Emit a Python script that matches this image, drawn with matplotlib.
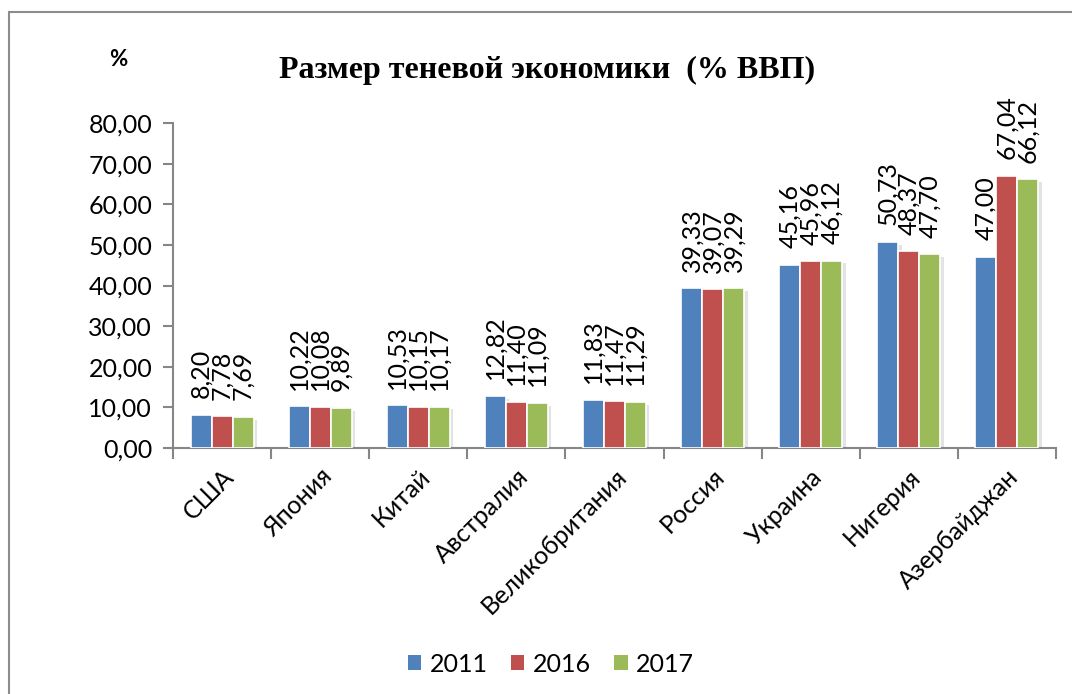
import matplotlib
matplotlib.use("Agg")
import matplotlib.pyplot as plt
import matplotlib.patheffects as pe
from matplotlib.patches import Rectangle
import numpy as np

categories = ["США", "Япония", "Китай", "Австралия", "Великобритания",
              "Россия", "Украина", "Нигерия", "Азербайджан"]
v2011 = [8.20, 10.22, 10.53, 12.82, 11.83, 39.33, 45.16, 50.73, 47.00]
v2016 = [7.78, 10.08, 10.15, 11.40, 11.47, 39.07, 45.96, 48.37, 67.04]
v2017 = [7.69, 9.89, 10.17, 11.09, 11.29, 39.29, 46.12, 47.70, 66.12]
series_names = ["2011", "2016", "2017"]
colors = ["#4F81BD", "#C0504D", "#9BBB59"]
yticks = [0, 10, 20, 30, 40, 50, 60, 70, 80]

FONT = "Lato"
FS = 18

fig = plt.figure(figsize=(10.72, 6.94), dpi=100)
ax = fig.add_axes([173/1072, 1-448/694, (1056-173)/1072, (448-123)/694])

x = np.arange(len(categories))
bw = 0.214
series = [v2011, v2016, v2017]
shadow = [pe.SimplePatchShadow(offset=(2.5, -2), shadow_rgbFace="#808080", alpha=0.22), pe.Normal()]
for i, (vals, c, name) in enumerate(zip(series, colors, series_names)):
    pos = x + (i - 1) * bw
    bars = ax.bar(pos, vals, width=bw, color=c, edgecolor="white", linewidth=1.2,
                  label=name, zorder=3)
    for b in bars:
        b.set_path_effects(shadow)
    for xp, v in zip(pos, vals):
        ax.annotate(f"{v:.2f}".replace(".", ","), (xp, v), xytext=(0, 12),
                    textcoords="offset points", rotation=90, ha="center", va="bottom",
                    fontsize=FS, family=FONT, color="black")

ax.set_xlim(-0.5, len(categories) - 0.5)
ax.set_ylim(0, 80)
ax.set_yticks(yticks)
ax.set_yticklabels([f"{t:.2f}".replace(".", ",") for t in yticks], fontsize=FS, family=FONT)
ax.set_xticks(np.arange(len(categories) + 1) - 0.5)
ax.set_xticklabels([])
ax.set_xticks(x, minor=True)
ax.set_xticklabels(categories, minor=True, rotation=45, ha="right", va="top",
                   rotation_mode="anchor", fontsize=FS, family=FONT)
ax.tick_params(axis="x", which="minor", length=0, pad=12)
ax.tick_params(axis="x", which="major", length=8, width=1.5, color="#868686", direction="out")
ax.tick_params(axis="y", length=7, width=1.5, color="#868686", pad=8)
for s in ["top", "right"]:
    ax.spines[s].set_visible(False)
for s in ["left", "bottom"]:
    ax.spines[s].set_color("#868686")
    ax.spines[s].set_linewidth(1.5)

leg = fig.legend(loc="center", bbox_to_anchor=(551/1072, 1-664/694), ncol=3, frameon=False,
                 prop={"family": FONT, "size": FS}, handlelength=0.55, handleheight=0.55,
                 handletextpad=0.35, columnspacing=0.9)
for h in leg.legend_handles:
    h.set_path_effects([pe.Normal()])
    h.set_edgecolor("none")

fig.text(547/1072, 1-70/694, "Размер теневой экономики  (% ВВП)", ha="center", va="center",
         fontsize=23, fontweight="bold", family="Liberation Serif")
fig.text(118/1072, 1-60/694, "%", ha="center", va="center", fontsize=16,
         fontweight="bold", family=FONT)

fig.add_artist(Rectangle((9/1072, -0.2), 1.5, 1.2 - 12/694, transform=fig.transFigure,
                         fill=False, edgecolor="#8C8C8C", linewidth=1.5))

fig.savefig("out.png", dpi=100)
